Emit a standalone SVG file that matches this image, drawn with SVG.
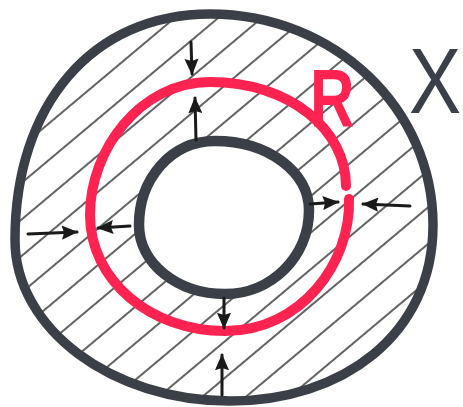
<svg xmlns="http://www.w3.org/2000/svg" width="463" height="407" viewBox="0 0 463 407">
<style>
.ring{fill:none;stroke:#3b4048;stroke-linecap:round;stroke-linejoin:round}
.red{fill:none;stroke:#ff2352;stroke-width:10;stroke-linecap:round}
.arr{stroke:#1a1a1a;stroke-width:3;stroke-linecap:round;fill:none;marker-end:url(#ah)}
.hatch{stroke:#2e2e2e;stroke-width:1.5}
</style>
<defs>
<marker id="ah" viewBox="0 0 14 12" refX="13" refY="6" markerWidth="5.5" markerHeight="4.7" orient="auto" markerUnits="strokeWidth">
<path d="M0,0 L14,6 L0,12 L2,6 Z" fill="#1a1a1a"/>
</marker>
<pattern id="hp" width="45" height="28" patternUnits="userSpaceOnUse" patternTransform="rotate(-40)">
<line x1="0" y1="14" x2="45" y2="14" class="hatch"/>
</pattern>
</defs>
<rect width="463" height="407" fill="#ffffff"/>
<g id="hatching">
<path fill="url(#hp)" fill-rule="evenodd" d="M210,14 C335,14 433,109 433,225 C433,335 342,401 230,401 C112,401 15,329 15,240 C15,104 93,14 210,14 Z M215,141 C268,141 309,172 309,210 C309,257 271,294 225,294 C177,294 139,263 139,225 C139,180 170,141 215,141 Z"/>
</g>
<g id="outer-ring">
<path class="ring" stroke-width="9.5" d="M210,14 C335,14 433,109 433,225 C433,335 342,401 230,401 C112,401 15,329 15,240 C15,104 93,14 210,14 Z"/>
</g>
<g id="inner-ring">
<path class="ring" stroke-width="10.5" d="M215,141 C268,141 309,172 309,210 C309,257 271,294 225,294 C177,294 139,263 139,225 C139,180 170,141 215,141 Z"/>
</g>
<g id="red-ring">
<path class="red" d="M349,199 C351,262 302,331 225,331 C150,331 90,280 90,215 C90,150 140,82 210,82 C290,82 346,130 346,186"/>
</g>
<g id="label-R">
<text transform="translate(310,126) scale(0.75,1)" font-family="Liberation Sans, Arial, sans-serif" font-weight="bold" font-size="82" fill="#ff2352">R</text>
</g>
<g id="label-X">
<text transform="translate(409,113) scale(0.85,1)" font-family="Liberation Sans, Arial, sans-serif" font-size="92" fill="#3b4048">X</text>
</g>
<g id="connectors">
<line class="arr" x1="191" y1="42" x2="192" y2="74"/>
<line class="arr" x1="196" y1="140" x2="195" y2="98"/>
<line class="arr" x1="28" y1="234" x2="77" y2="232"/>
<line class="arr" x1="130" y1="226" x2="98" y2="228"/>
<line class="arr" x1="310" y1="204" x2="338" y2="202"/>
<line class="arr" x1="410" y1="206" x2="363" y2="204"/>
<line class="arr" x1="224" y1="298" x2="224" y2="328"/>
<line class="arr" x1="222" y1="395" x2="222" y2="355"/>
</g>
</svg>
